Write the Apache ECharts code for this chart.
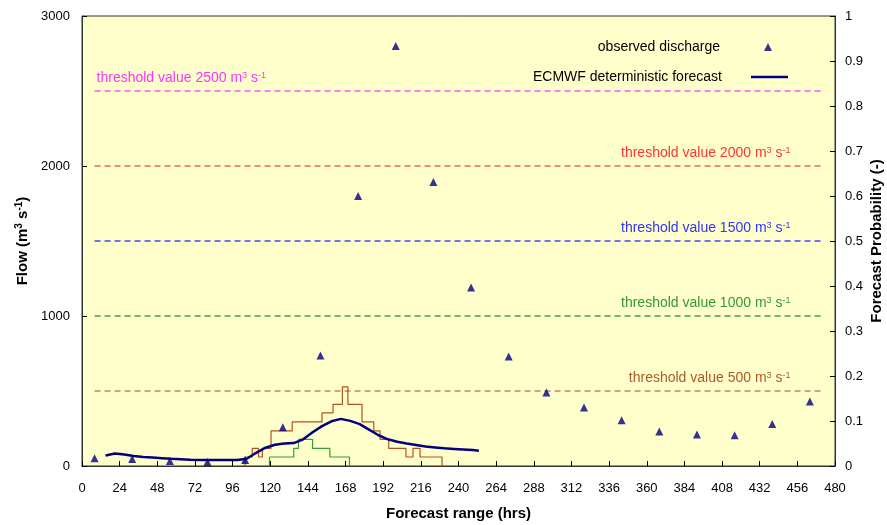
<!DOCTYPE html>
<html>
<head>
<meta charset="utf-8">
<script src="https://cdn.jsdelivr.net/npm/echarts@6/dist/echarts.min.js"></script>
<style>
  html, body { margin: 0; padding: 0; background: #ffffff; }
  #chart { width: 887px; height: 525px; }
</style>
</head>
<body>
<div id="chart"></div>
<script>
// Observed discharge (m3/s) at forecast hours
const obsHours = [8, 32, 56, 80, 104, 128, 152, 176, 200, 224, 248, 272, 296, 320, 344, 368, 392, 416, 440, 464];
const obsFlow  = [52, 47, 33, 27, 40, 258, 737, 1800, 2800, 1893, 1190, 730, 490, 390, 305, 230, 210, 205, 280, 430];

// ECMWF deterministic forecast (m3/s)
const detHours = [15, 21, 27, 33, 39, 45, 51, 57, 63, 69, 75, 81, 87, 93, 99, 105, 111, 117, 123, 129, 135, 141, 147, 153, 159, 165, 171, 177, 183, 189, 195, 201, 207, 213, 219, 225, 231, 237, 243, 249, 253];
const detFlow  = [70, 83, 76, 66, 60, 56, 52, 48, 45, 41, 40, 40, 40, 40, 40, 48, 88, 122, 142, 150, 153, 178, 225, 266, 298, 314, 301, 279, 242, 205, 178, 162, 150, 140, 130, 124, 118, 114, 110, 106, 102];

// Ensemble probability of exceeding 500 m3/s (step changes)
const p500Hours = [102, 104, 108.5, 112.5, 115, 120.5, 134, 153, 160, 166, 169.5, 178.5, 186, 190, 195.5, 206.5, 211, 215.5, 229.5, 231];
const p500Prob  = [0, 0.02, 0.039, 0.02, 0.039, 0.078, 0.098, 0.118, 0.137, 0.176, 0.137, 0.098, 0.078, 0.059, 0.039, 0.02, 0.039, 0.02, 0, 0];

// Ensemble probability of exceeding 1000 m3/s (step changes)
const p1000Hours = [118, 119.5, 135, 138, 147, 158, 170.5, 171.5];
const p1000Prob  = [0, 0.02, 0.039, 0.059, 0.039, 0.02, 0, 0];

// Warning thresholds (m3/s) and the hour span the threshold lines cover
const thresholds = [2500, 2000, 1500, 1000, 500];
const thresholdSpan = [8, 472];

// Axis ranges
const hourMax = 480, hourStep = 24;
const flowMax = 3000, flowStep = 1000;
const probMax = 1, probStep = 0.1;

const FONT = '"Liberation Sans", Arial, Helvetica, sans-serif';
const thresholdColors = { 2500: '#FF33FF', 2000: '#FF3333', 1500: '#3333FF', 1000: '#339933', 500: '#B0582A' };
const thresholdLineColors = { 2500: '#FF55FF', 2000: '#F06060', 1500: '#4444FF', 1000: '#44A044', 500: '#C48558' };

function pairs(xs, ys) { return xs.map((x, i) => [x, ys[i]]); }

function thresholdSeries(v) {
  const color = thresholdColors[v];
  const leftLabel = v === 2500;
  const labelCfg = {
    show: true,
    position: 'top',
    distance: 5,
    align: leftLabel ? 'left' : 'right',
    offset: leftLabel ? [2, 0] : [-32, 0],
    fontFamily: FONT,
    fontSize: 14,
    color: color,
    formatter: 'threshold value ' + v + ' m{sup|3} s{sup|-1}',
    rich: { sup: { fontSize: 9, verticalAlign: 'top', color: color, fontFamily: FONT, padding: [0, 0, 6, 0] } }
  };
  const data = [[thresholdSpan[0], v], [thresholdSpan[1], v]].map((p, i) => {
    const withLabel = leftLabel ? i === 0 : i === 1;
    return withLabel ? { value: p, label: labelCfg } : { value: p };
  });
  return {
    type: 'line',
    name: 'threshold ' + v,
    yAxisIndex: 0,
    data: data,
    symbol: 'circle',
    symbolSize: 0,
    showSymbol: true,
    silent: true,
    animation: false,
    lineStyle: { color: thresholdLineColors[v], width: 1.5, type: [6, 4] },
    itemStyle: { color: thresholdLineColors[v] },
    z: 2
  };
}

const chart = echarts.init(document.getElementById('chart'), null, { renderer: 'canvas' });

const supRich = { sup: { fontSize: 10, verticalAlign: 'top', fontWeight: 'bold', fontFamily: FONT, color: '#000', padding: [0, 0, 7, 0] } };

chart.setOption({
  backgroundColor: '#ffffff',
  animation: false,
  textStyle: { fontFamily: FONT },
  grid: {
    left: 82, right: 52, top: 16, bottom: 59,
    show: true, backgroundColor: '#FFFFCC', borderColor: '#333333', borderWidth: 1,
    containLabel: false, outerBoundsMode: 'none'
  },
  legend: [
    {
      data: [{ name: 'observed discharge', icon: 'triangle' }],
      right: 110, top: 35, orient: 'vertical', align: 'right',
      itemWidth: 8, itemHeight: 8,
      textStyle: { fontFamily: FONT, fontSize: 14, color: '#000', padding: [0, 39, 0, 0] },
      selectedMode: false
    },
    {
      data: [{ name: 'ECMWF deterministic forecast', icon: 'rect' }],
      right: 94, top: 65, orient: 'vertical', align: 'right',
      itemWidth: 37, itemHeight: 2.5,
      textStyle: { fontFamily: FONT, fontSize: 14, color: '#000', padding: [0, 24, 0, 0] },
      selectedMode: false
    }
  ],
  xAxis: {
    type: 'value', min: 0, max: hourMax, interval: hourStep,
    name: 'Forecast range (hrs)', nameLocation: 'middle', nameGap: 40,
    nameTextStyle: { fontFamily: FONT, fontSize: 15, fontWeight: 'bold', color: '#000' },
    axisLine: { show: true, lineStyle: { color: '#333', width: 1 } },
    axisTick: { show: true, inside: true, length: 5, lineStyle: { color: '#000' } },
    axisLabel: { fontFamily: FONT, fontSize: 13, color: '#000', margin: 16 },
    splitLine: { show: false }
  },
  yAxis: [
    {
      type: 'value', min: 0, max: flowMax, interval: flowStep, position: 'left',
      name: 'Flow (m{sup|3} s{sup|-1})', nameLocation: 'middle', nameGap: 46, nameRotate: 90,
      nameTextStyle: { fontFamily: FONT, fontSize: 15, fontWeight: 'bold', color: '#000', rich: supRich },
      axisLine: { show: true, lineStyle: { color: '#333' } },
      axisTick: { show: true, inside: true, length: 5, lineStyle: { color: '#000' } },
      axisLabel: { fontFamily: FONT, fontSize: 13, color: '#000', margin: 12, formatter: v => String(v) },
      splitLine: { show: false }
    },
    {
      type: 'value', min: 0, max: probMax, interval: probStep, position: 'right',
      name: 'Forecast Probability (-)', nameLocation: 'middle', nameGap: 34, nameRotate: 90,
      nameMoveOverlap: false,
      nameTextStyle: { fontFamily: FONT, fontSize: 15, fontWeight: 'bold', color: '#000' },
      axisLine: { show: true, lineStyle: { color: '#333' } },
      axisTick: { show: true, inside: true, length: 5, lineStyle: { color: '#000' } },
      axisLabel: { fontFamily: FONT, fontSize: 13, color: '#000', margin: 10,
                   formatter: v => String(Math.round(v * 10) / 10) },
      splitLine: { show: false }
    }
  ],
  series: [
    ...thresholds.map(thresholdSeries),
    {
      type: 'line', name: 'P(>1000)', yAxisIndex: 1,
      data: pairs(p1000Hours, p1000Prob), step: 'end',
      symbol: 'none', lineStyle: { color: '#33A033', width: 1.2 }, itemStyle: { color: '#33A033' }, z: 3
    },
    {
      type: 'line', name: 'P(>500)', yAxisIndex: 1,
      data: pairs(p500Hours, p500Prob), step: 'end',
      symbol: 'none', lineStyle: { color: '#B4501E', width: 1.2 }, itemStyle: { color: '#B4501E' }, z: 3
    },
    {
      type: 'line', name: 'ECMWF deterministic forecast', yAxisIndex: 0,
      data: pairs(detHours, detFlow),
      symbol: 'none', lineStyle: { color: '#000080', width: 2.5 }, itemStyle: { color: '#000080' }, z: 4
    },
    {
      type: 'scatter', name: 'observed discharge', yAxisIndex: 0,
      data: pairs(obsHours, obsFlow),
      symbol: 'triangle', symbolSize: 8, itemStyle: { color: '#000080' }, z: 5
    }
  ]
});
</script>
</body>
</html>
